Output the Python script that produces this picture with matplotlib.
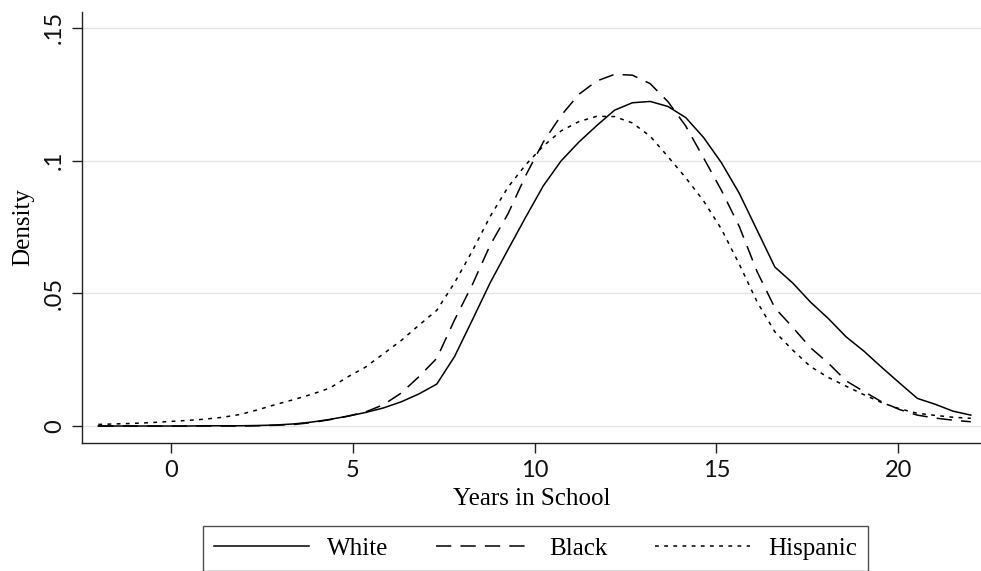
import matplotlib.pyplot as plt

# kernel density evaluation points (years of schooling)
years = [-2.00, -1.51, -1.02, -0.53, -0.04, 0.45, 0.94, 1.43, 1.92, 2.41,
         2.90, 3.39, 3.88, 4.37, 4.86, 5.35, 5.84, 6.33, 6.82, 7.31,
         7.80, 8.29, 8.78, 9.27, 9.76, 10.24, 10.73, 11.22, 11.71, 12.20,
         12.69, 13.18, 13.67, 14.16, 14.65, 15.14, 15.63, 16.12, 16.61, 17.10,
         17.59, 18.08, 18.57, 19.06, 19.55, 20.04, 20.53, 21.02, 21.51, 22.00]

white = [0.0000, 0.0000, 0.0000, 0.0000, 0.0000, 0.0000, 0.0001, 0.0001, 0.0001, 0.0002,
         0.0004, 0.0008, 0.0015, 0.0025, 0.0037, 0.0051, 0.0068, 0.0091, 0.0121, 0.0158,
         0.0262, 0.0400, 0.0540, 0.0665, 0.0788, 0.0905, 0.0999, 0.1070, 0.1132, 0.1190,
         0.1218, 0.1223, 0.1204, 0.1162, 0.1087, 0.0992, 0.0877, 0.0738, 0.0599, 0.0539,
         0.0467, 0.0405, 0.0336, 0.0282, 0.0221, 0.0162, 0.0104, 0.0082, 0.0056, 0.0041]

black = [0.0000, 0.0000, 0.0000, 0.0000, 0.0000, 0.0000, 0.0000, 0.0000, 0.0000, 0.0001,
         0.0003, 0.0006, 0.0013, 0.0024, 0.0037, 0.0053, 0.0080, 0.0124, 0.0186, 0.0255,
         0.0400, 0.0533, 0.0682, 0.0800, 0.0945, 0.1070, 0.1170, 0.1250, 0.1300, 0.1325,
         0.1322, 0.1290, 0.1222, 0.1130, 0.1010, 0.0888, 0.0752, 0.0582, 0.0445, 0.0372,
         0.0295, 0.0237, 0.0170, 0.0130, 0.0091, 0.0062, 0.0041, 0.0030, 0.0022, 0.0016]

hispanic = [0.0006, 0.0008, 0.0010, 0.0013, 0.0017, 0.0021, 0.0026, 0.0033, 0.0044, 0.0062,
            0.0082, 0.0100, 0.0120, 0.0143, 0.0185, 0.0222, 0.0272, 0.0322, 0.0380, 0.0436,
            0.0540, 0.0660, 0.0790, 0.0900, 0.0985, 0.1055, 0.1112, 0.1147, 0.1167, 0.1166,
            0.1142, 0.1092, 0.1015, 0.0935, 0.0848, 0.0742, 0.0610, 0.0468, 0.0355, 0.0286,
            0.0224, 0.0183, 0.0150, 0.0118, 0.0088, 0.0065, 0.0048, 0.0040, 0.0033, 0.0029]

xticks = [0, 5, 10, 15, 20]
yticks = [0, 0.05, 0.1, 0.15]
ytick_labels = ["0", ".05", ".1", ".15"]

serif = ["Liberation Serif", "DejaVu Serif"]
sans = ["Lato", "DejaVu Sans"]
ink = "#222222"

fig = plt.figure(figsize=(9.81, 5.71), dpi=100)
ax = fig.add_axes([81.7 / 981, 128 / 571, (981 - 81.7) / 981, (443 - 12) / 571])

ax.plot(years, white, color="black", lw=1.1, label="White")
ax.plot(years, black, color="black", lw=1.1, dashes=(10, 6), label="Black")
ax.plot(years, hispanic, color="black", lw=1.1, dashes=(2.5, 3.5), label="Hispanic")

ax.set_xlim(-2.457, 22.28)
ax.set_ylim(-0.0064, 0.156)

ax.set_xticks(xticks)
ax.set_xticklabels([str(t) for t in xticks], family=sans, fontsize=17, color="#111111")
ax.set_yticks(yticks)
ax.set_yticklabels(ytick_labels, family=sans, fontsize=17, color="#111111",
                   rotation=90, va="center")
ax.tick_params(direction="out", length=7, width=1, color=ink, pad=5)

ax.yaxis.grid(True, color="#e4e4e4", lw=1)
ax.set_axisbelow(True)
for side in ("top", "right"):
    ax.spines[side].set_visible(False)
for side in ("left", "bottom"):
    ax.spines[side].set_color(ink)
    ax.spines[side].set_linewidth(1)

ax.set_xlabel("Years in School", family=serif, fontsize=18, labelpad=5)
ax.set_ylabel("Density", family=serif, fontsize=18, labelpad=7)

leg = fig.legend(loc="center", ncol=3, mode="expand",
                 bbox_to_anchor=(203 / 981, 1 / 571, 665 / 981, 43 / 571),
                 prop={"family": serif, "size": 18}, frameon=True, fancybox=False,
                 handlelength=3.8, handletextpad=0.7, borderpad=0.45, borderaxespad=0)
leg.get_frame().set_edgecolor(ink)
leg.get_frame().set_linewidth(1)

fig.savefig("out.png", dpi=100)
